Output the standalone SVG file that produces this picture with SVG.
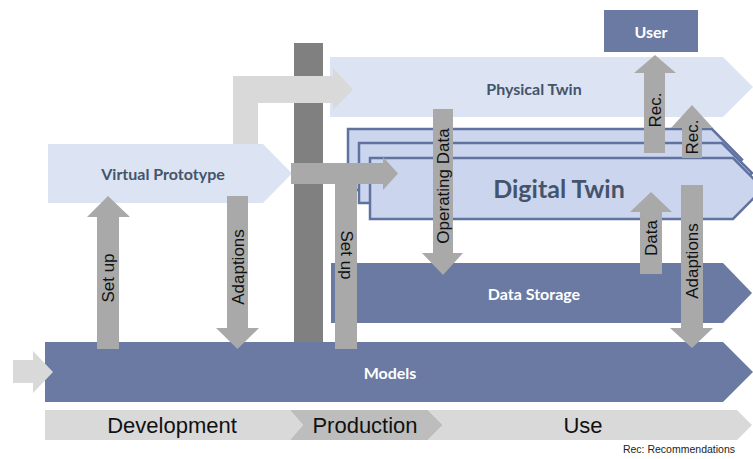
<svg xmlns="http://www.w3.org/2000/svg" width="753" height="459" viewBox="0 0 753 459">
<style>
.lb{fill:#DCE3F2}
.dt{fill:#CCD5EE;stroke:#6072A0;stroke-width:2.5}
.db{fill:#6A7AA3}
.g{fill:#A9A9A9}
.lg{fill:#D9D9D9}
.mg{fill:#BDBDBD}
.dk{fill:#808080}
.t1{font-family:Lato,"Open Sans",sans-serif;font-weight:bold;font-size:16px;text-anchor:middle;dominant-baseline:central}
.tv{font-family:"Liberation Sans",Arial,sans-serif;font-size:17px;fill:#111;text-anchor:middle;dominant-baseline:central}
.tp{font-family:"Liberation Sans",Arial,sans-serif;font-size:22px;fill:#111;text-anchor:middle;dominant-baseline:central}
</style>
<rect width="753" height="459" fill="#FFFFFF"/>
<g id="physical-twin"><polygon class="lb" points="330,57 723,57 753,87 723,117 330,117"/><text class="t1" x="534" y="88" fill="#44546A">Physical Twin</text></g>
<g id="digital-twin">
<polygon class="dt" points="348,129 712,129 742,159.5 712,190 348,190"/>
<polygon class="dt" points="359,143 722,143 752,173 722,203 359,203"/>
<polygon class="dt" points="370,158 733,158 763,188.5 733,219 370,219"/>
<text class="t1" x="559" y="188" fill="#44546A" style="font-size:25px">Digital Twin</text>
</g>
<g id="data-storage"><polygon class="db" points="331,263 723,263 752,293 723,323 331,323"/><text class="t1" x="534" y="293" fill="#FFFFFF">Data Storage</text></g>
<g id="models"><polygon class="db" points="45,342 723,342 753,372 723,402 45,402"/><text class="t1" x="390" y="372" fill="#FFFFFF">Models</text></g>
<g id="virtual-prototype"><polygon class="lb" points="48,144 263,144 292,173.5 263,203 48,203"/><text class="t1" x="163" y="173" fill="#44546A">Virtual Prototype</text></g>
<g id="production-bar"><rect class="dk" x="294" y="43" width="29" height="299"/></g>
<g id="user"><rect class="db" x="604" y="10" width="94" height="42"/><text class="t1" x="651" y="31" fill="#FFFFFF">User</text></g>
<g id="connectors">
<path class="lg" d="M233,144 V76 H333 V68 L353,89.5 L333,110 V103 H258 V144 Z"/>
<path class="g" d="M291,163 H383 V157 L398,173.5 L383,190 V184 H357 V349 H335 V184 H291 Z"/>
<path class="g" d="M433,109 H453 V253 H463 L443,275 L422,253 H433 Z"/>
<path class="g" d="M644,153 V73 H634 L655,55 L676,73 H665 V153 Z"/>
<path class="g" d="M682,158 V128 H671 L692,105 L713,128 H702 V158 Z"/>
<path class="g" d="M640,274 V212 H630 L651,192 L672,212 H662 V274 Z"/>
<path class="g" d="M681,185 H703 V328 H713 L692,348 L670,328 H681 Z"/>
<path class="g" d="M97,349 V217 H87 L108,196 L130,217 H119 V349 Z"/>
<path class="g" d="M227,196 H248 V328 H259 L237.5,349 L216,328 H227 Z"/>
<path class="lg" d="M13,360 H33 V351 L53,372 L33,393 V383 H13 Z"/>
<text class="tv" transform="translate(108,278) rotate(-90)">Set up</text>
<text class="tv" transform="translate(238,267) rotate(-90)">Adaptions</text>
<text class="tv" transform="translate(346,255) rotate(90)">Set up</text>
<text class="tv" transform="translate(443,186) rotate(-90)">Operating Data</text>
<text class="tv" transform="translate(655,110) rotate(-90)">Rec.</text>
<text class="tv" transform="translate(692,137) rotate(-90)">Rec.</text>
<text class="tv" transform="translate(651,238) rotate(-90)">Data</text>
<text class="tv" transform="translate(692,261) rotate(-90)">Adaptions</text>
</g>
<g id="phase-development"><polygon class="lg" points="45,410 290,410 303,425 290,440 45,440"/><text class="tp" x="172" y="425">Development</text></g>
<g id="phase-production"><polygon class="mg" points="290,410 428,410 443,425 428,440 290,440 303,425"/><text class="tp" x="365" y="425">Production</text></g>
<g id="phase-use"><polygon class="lg" points="428,410 737,410 752,425 737,440 428,440 443,425"/><text class="tp" x="583" y="425">Use</text></g>
<text x="735" y="453" font-family="Liberation Sans, Arial, sans-serif" font-size="10.5" fill="#222" text-anchor="end">Rec: Recommendations</text>
</svg>
